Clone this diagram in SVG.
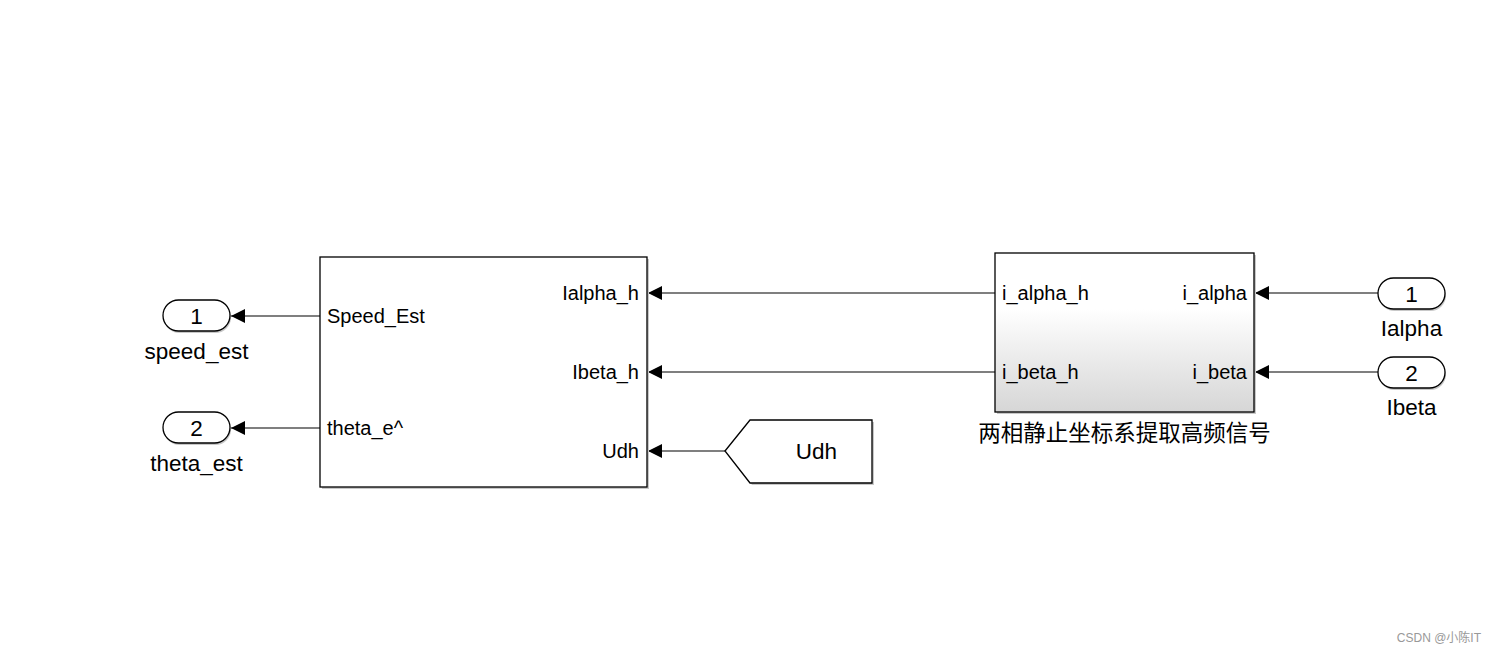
<svg xmlns="http://www.w3.org/2000/svg" width="1495" height="656" viewBox="0 0 1495 656">
<defs>
<style>
.blk{fill:#fff;stroke:#000;stroke-width:1.3}
.sh{fill:#c8c8c8;stroke:none}
.pill{fill:#fff;stroke:#000;stroke-width:1.3}
.t{font-family:"Liberation Sans",Arial,sans-serif;font-size:20px;fill:#000}
.tl{font-family:"Liberation Sans",Arial,sans-serif;font-size:22.5px;fill:#000}
.cn{font-family:"Noto Sans CJK SC","Liberation Sans",sans-serif;font-size:22.5px;fill:#000}
.ln{stroke:#000;stroke-width:1.2;fill:none}
</style>
<linearGradient id="g" x1="0" y1="0" x2="0" y2="1">
<stop offset="0" stop-color="#ffffff"/>
<stop offset="0.35" stop-color="#ffffff"/>
<stop offset="1" stop-color="#d6d6d6"/>
</linearGradient>
<marker id="ar" viewBox="0 0 14 14" refX="14" refY="7" markerWidth="14" markerHeight="14" markerUnits="userSpaceOnUse" orient="auto">
<path d="M0,0 L14,7 L0,14 Z" fill="#000"/>
</marker>
</defs>
<rect width="1495" height="656" fill="#fff"/>
<g id="connectors">
<line class="ln" x1="320" y1="316" x2="231" y2="316" marker-end="url(#ar)"/>
<line class="ln" x1="320" y1="428" x2="231" y2="428" marker-end="url(#ar)"/>
<line class="ln" x1="995" y1="293" x2="648" y2="293" marker-end="url(#ar)"/>
<line class="ln" x1="995" y1="372" x2="648" y2="372" marker-end="url(#ar)"/>
<line class="ln" x1="725" y1="451" x2="648" y2="451" marker-end="url(#ar)"/>
<line class="ln" x1="1378" y1="293" x2="1255" y2="293" marker-end="url(#ar)"/>
<line class="ln" x1="1378" y1="372" x2="1255" y2="372" marker-end="url(#ar)"/>
</g>
<g id="out1">
<rect x="164" y="302" width="67" height="31" rx="15.5" class="sh"/>
<rect x="163" y="300" width="67" height="31" rx="15.5" class="pill"/>
<text x="196.5" y="324" text-anchor="middle" class="tl">1</text>
<text x="196.5" y="359" text-anchor="middle" class="tl">speed_est</text>
</g>
<g id="out2">
<rect x="164" y="414" width="67" height="31" rx="15.5" class="sh"/>
<rect x="163" y="412" width="67" height="31" rx="15.5" class="pill"/>
<text x="196.5" y="436" text-anchor="middle" class="tl">2</text>
<text x="196.5" y="471" text-anchor="middle" class="tl">theta_est</text>
</g>
<g id="estimator">
<rect x="322" y="259" width="327" height="230" class="sh"/>
<rect x="320" y="257" width="327" height="230" class="blk"/>
<text x="327" y="323" class="t">Speed_Est</text>
<text x="327" y="435" class="t">theta_e^</text>
<text x="639" y="300" text-anchor="end" class="t">Ialpha_h</text>
<text x="639" y="379" text-anchor="end" class="t">Ibeta_h</text>
<text x="639" y="458" text-anchor="end" class="t">Udh</text>
</g>
<g id="from_udh">
<polygon points="727,453 752,422 874,422 874,485 752,485" class="sh"/>
<polygon points="725,451 750,420 872,420 872,483 750,483" class="blk"/>
<text x="816.5" y="459" text-anchor="middle" class="tl">Udh</text>
</g>
<g id="hf_extract">
<rect x="997" y="255" width="259" height="159" class="sh"/>
<rect x="995" y="253" width="259" height="159" fill="url(#g)" stroke="#000" stroke-width="1.3"/>
<text x="1002" y="300" class="t">i_alpha_h</text>
<text x="1002" y="379" class="t">i_beta_h</text>
<text x="1247" y="300" text-anchor="end" class="t">i_alpha</text>
<text x="1247" y="379" text-anchor="end" class="t">i_beta</text>
<text x="1124.5" y="441" text-anchor="middle" class="cn">两相静止坐标系提取高频信号</text>
</g>
<g id="in1">
<rect x="1379" y="280" width="67" height="31" rx="15.5" class="sh"/>
<rect x="1378" y="278" width="67" height="31" rx="15.5" class="pill"/>
<text x="1411.5" y="302" text-anchor="middle" class="tl">1</text>
<text x="1411.5" y="336" text-anchor="middle" class="tl">Ialpha</text>
</g>
<g id="in2">
<rect x="1379" y="359" width="67" height="31" rx="15.5" class="sh"/>
<rect x="1378" y="357" width="67" height="31" rx="15.5" class="pill"/>
<text x="1411.5" y="381" text-anchor="middle" class="tl">2</text>
<text x="1411.5" y="415" text-anchor="middle" class="tl">Ibeta</text>
</g>
<text x="1481" y="642" text-anchor="end" font-family="'Liberation Sans','Noto Sans CJK SC',sans-serif" font-size="12" fill="#999">CSDN @小陈IT</text>
</svg>
